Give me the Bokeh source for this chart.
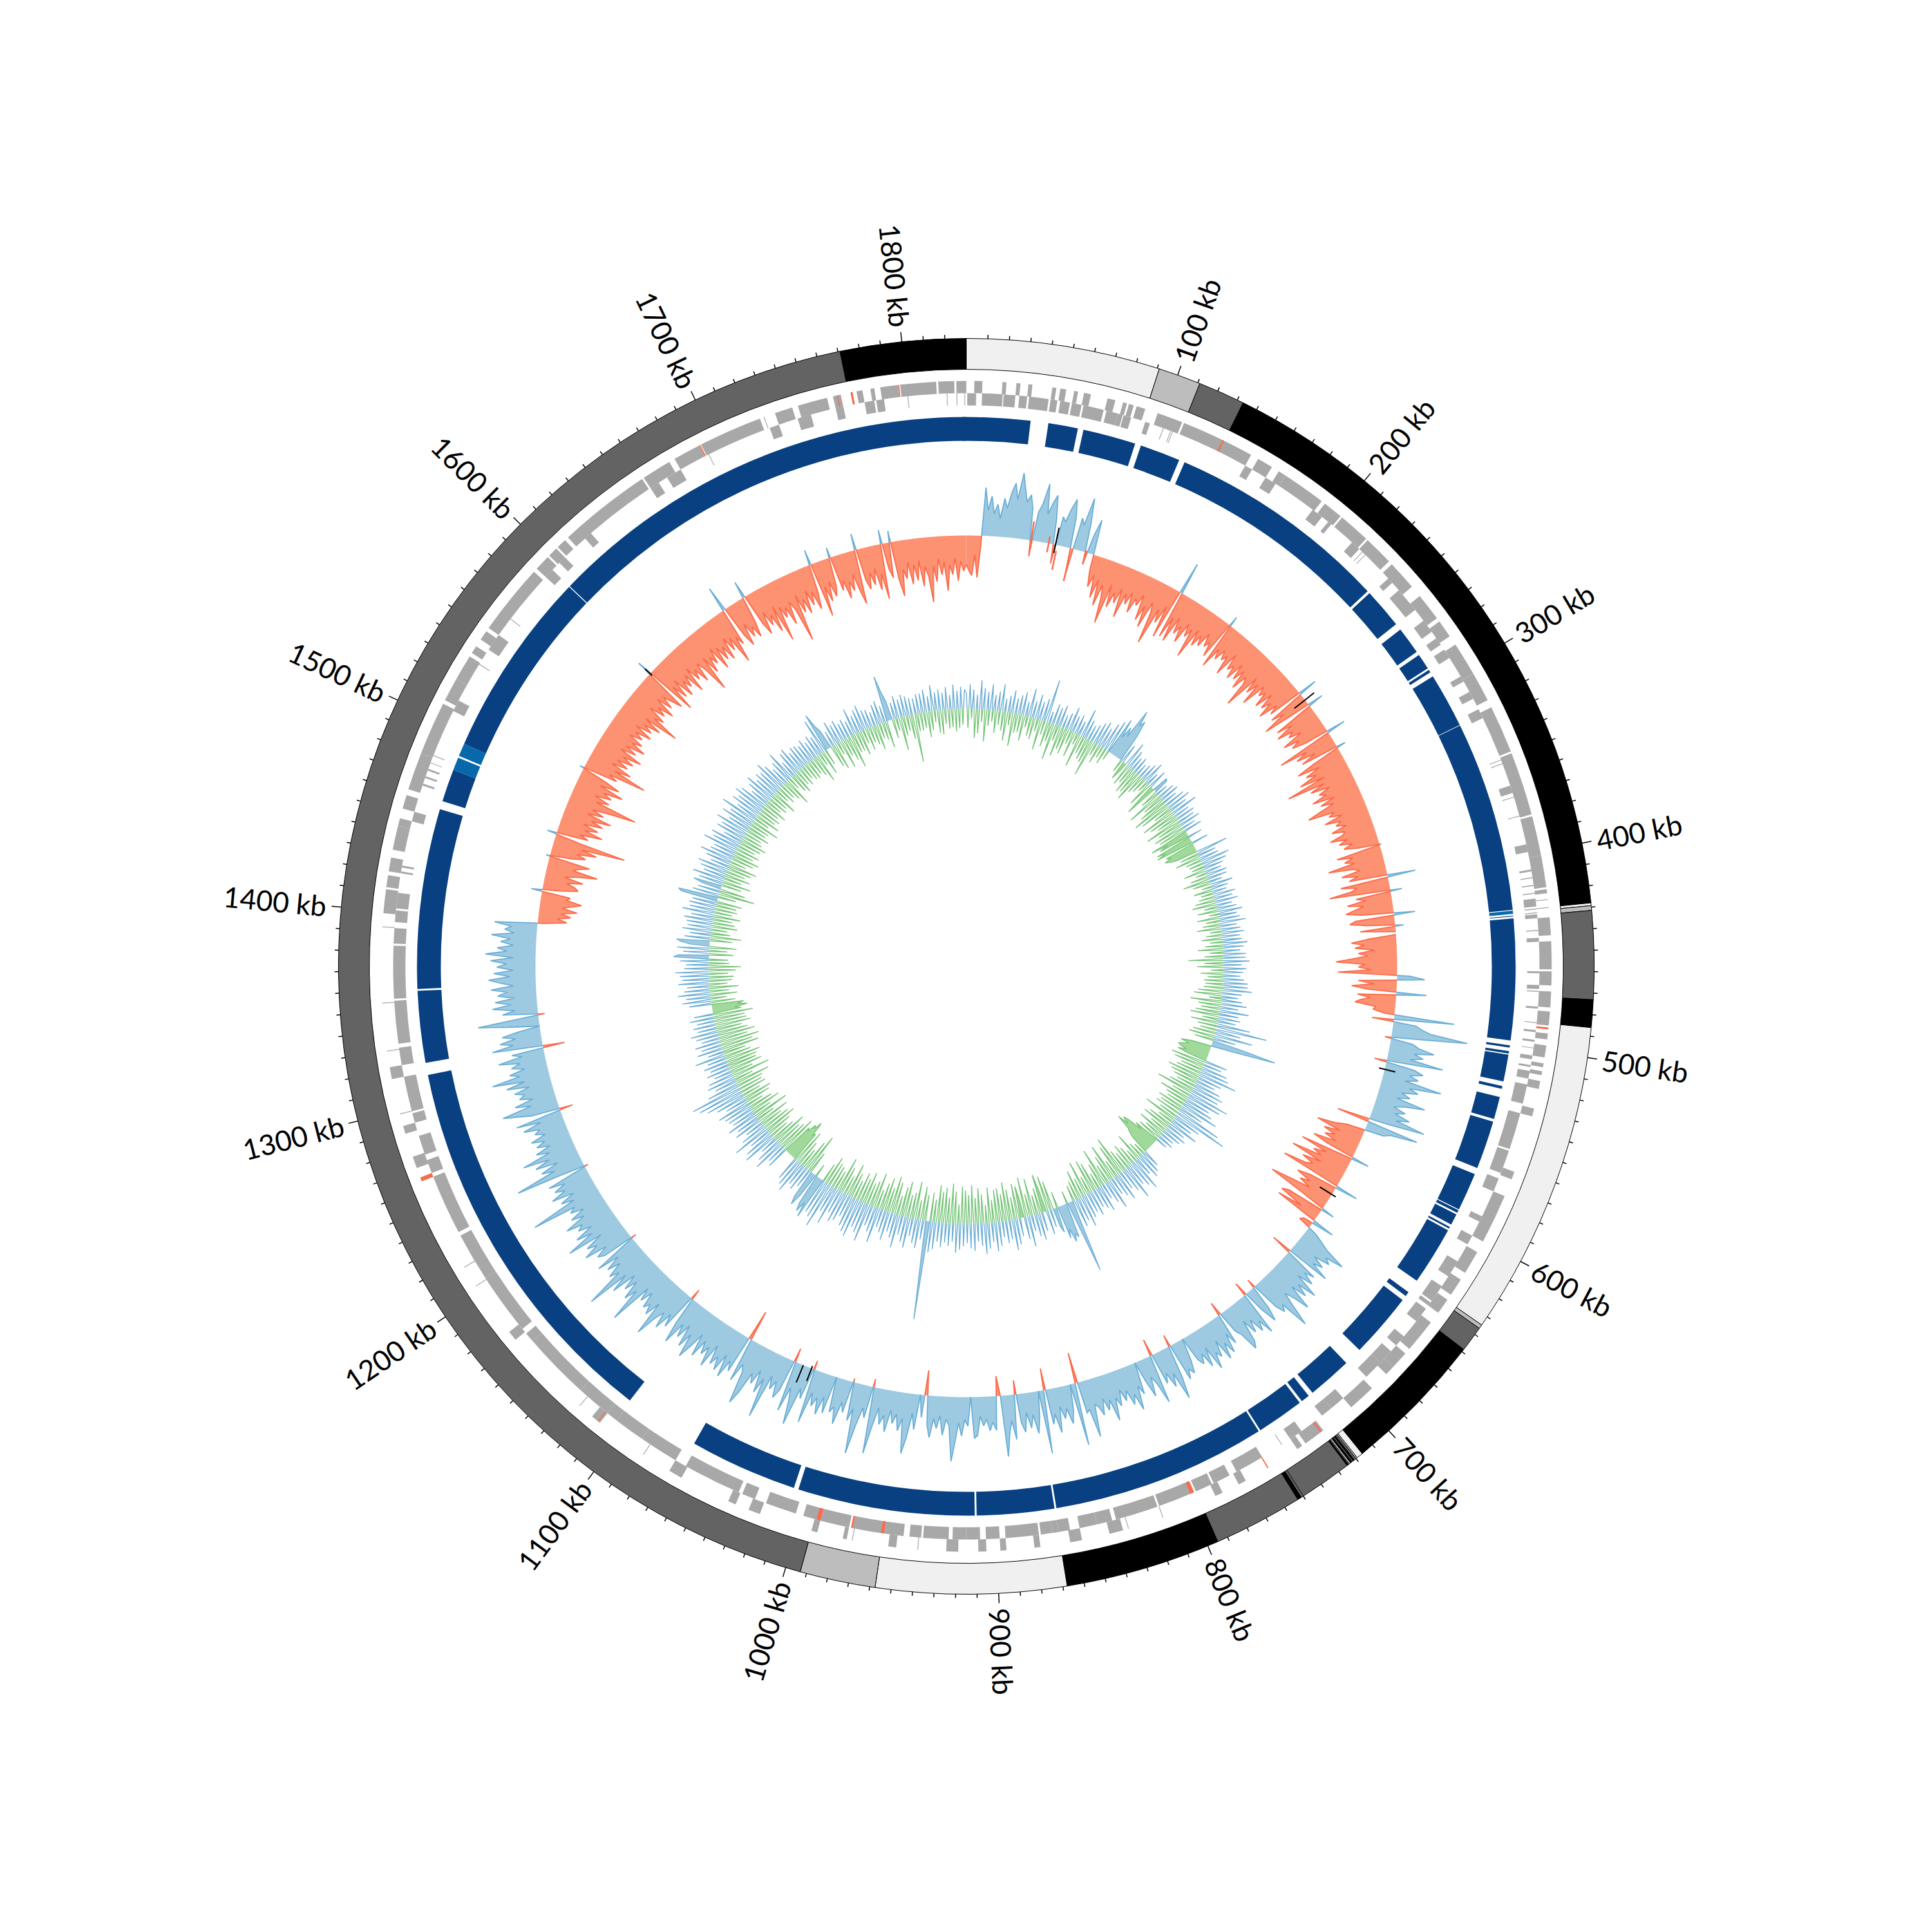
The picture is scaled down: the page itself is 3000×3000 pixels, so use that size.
import numpy as np
from bokeh.plotting import figure
from bokeh.models import Range1d
from bokeh.core.properties import value
from bokeh.embed import file_html
from bokeh.resources import INLINE

genome_kb = 1830.0

# ---- karyotype band: start, end (kb), colour
band_start = [0,91,111,133,428,429.3,431.5,473,486,634.6,636.5,648.7,716.3,719.3,720,721,721.7,722.4,723.2,724,724.4,725.2,750,750.5,751,753,795,868,957.5,993,1771]
band_end = [91,111,133,428,429.3,431.5,473,486,634.6,636.5,648.7,716.3,719.3,720,721,721.7,722.4,723.2,724,724.4,725.2,750,750.5,751,753,795,868,957.5,993,1771,1830]
band_color = ["#f0f0f0","#bdbdbd","#636363","#000000","#f0f0f0","#bdbdbd","#636363","#000000","#f0f0f0","#bdbdbd","#636363","#000000","#f0f0f0","#bdbdbd","#636363","#000000","#636363","#000000","#bdbdbd","#f0f0f0","#000000","#636363","#bdbdbd","#f0f0f0","#000000","#636363","#000000","#f0f0f0","#bdbdbd","#636363","#000000"]

# ---- tick labels
label_kb = [100,200,300,400,500,600,700,800,900,1000,1100,1200,1300,1400,1500,1600,1700,1800]
label_text = ["100 kb","200 kb","300 kb","400 kb","500 kb","600 kb","700 kb","800 kb","900 kb","1000 kb","1100 kb","1200 kb","1300 kb","1400 kb","1500 kb","1600 kb","1700 kb","1800 kb"]

# ---- genes (start, end kb)
genes_outer = [(4,8),(18,20),(25,27),(31,33),(43,45),(47,50),(54,56),(59,62.5),(71,75),(79,81),(82,84.5),(86,90.5),(97,110),(111,148),(152,160),(164,168),(168,190),(192,202),(203,219),(220,235),(237,252),(258,272),(274,283),(288,305),(305,320),(324,348),(349,381),(382,402),(402,418),(419,421),(424,424.4),(428,428.4),(433,442),(445,459),(460,467),(470,478),(480,487),(491,494),(497,503),(506,508),(510,512),(515,519),(529,533),(562,566),(575,600),(606,618),(622,631),(634,642),(648,665),(668,677),(677,682),(692,706),(724,735),(737,740),(770,774),(783,787),(815,815.4),(833,833.4),(836,843),(857,863),(878,881),(895,898),(905,909),(919,925),(939,939.4),(950,954),(972,972.4),(975,977),(990,993),(1020,1026),(1033,1037),(1063,1070),(1085,1085.4),(1112,1117),(1125,1125.4),(1171,1176),(1204,1204.4),(1215,1215.4),(1263,1265),(1270,1276),(1288,1292),(1298,1298.4),(1316,1322),(1330,1330.4),(1354,1354.4),(1392,1392.4),(1399,1411),(1412,1418),(1420,1427),(1431,1443),(1443,1447),(1452,1459),(1462,1481),(1481,1508),(1510,1522),(1522,1535),(1537,1541),(1545,1550),(1552,1588),(1590,1598),(1599,1604),(1605,1610),(1612,1659),(1660,1675),(1678,1692),(1693,1725),(1727,1727.4),(1733,1742),(1745,1760),(1763,1767),(1772,1773),(1775,1778),(1782,1784),(1787,1796),(1797,1815),(1816,1824),(1825,1830)]
genes_inner = [(0.5,5),(8,18.5),(19,25),(27,31),(32,42),(43,46.5),(48,53),(54,59),(60,70.5),(72,78),(78,80.5),(81,85),(92.5,95),(102,102.4),(106,106.4),(107,107.4),(148,152),(160,166),(189,195),(199,201),(215,220),(222,222.4),(224,224.4),(241,244),(249,262),(269,276),(280,284),(287,292),(303,306),(312,316),(322,327),(350,350.4),(352,352.4),(364,368),(370,370.4),(380,380.4),(395,399),(408,409),(412,412.5),(416,416.5),(420,420.5),(423,427),(428,428.5),(430,430.5),(431,433),(439,439.5),(443,445),(460,461),(467,469),(470,470.5),(478,479),(486,486.4),(490,491),(495,496),(499,499.4),(503,505),(508,509),(511,515),(518,528),(533,552),(553,565),(568,575),(589,592),(600,605),(615,624),(630,639),(640,642),(644,652),(662,668),(672,680),(680,690),(706,714),(714,720),(733,740),(745,745.4),(757,772),(776,785),(786,795),(796,815),(816,838),(840,848),(848,857),(862,868),(868,871),(871,877),(878,881),(880,895),(898,905),(908,915),(915,922),(924,937),(938,944),(947,957),(957,973),(975,990),(990,999),(1003,1019),(1025,1032),(1034,1064),(1070,1090),(1090,1106),(1106,1112),(1112,1130),(1130,1165),(1165,1170),(1173,1205),(1205,1230),(1232,1263),(1265,1272),(1275,1285),(1292,1297),(1298,1316),(1322,1331),(1333,1355),(1356,1372),(1372,1383),(1384,1392),(1395,1401),(1402,1410),(1420,1421),(1423,1424),(1447,1452),(1466,1467),(1470,1471),(1474,1475),(1478,1478.4),(1482,1482.4),(1507,1513),(1534,1534.4),(1543,1552),(1562,1562.4),(1590,1595),(1600,1604),(1618,1622),(1660,1665),(1670,1678),(1694,1694.4),(1728,1733),(1743,1750),(1763,1767),(1778,1783),(1784,1788),(1800,1800.4),(1820,1820.4),(1825,1825.4),(1829,1829.4)]
red_outer = [(132,132.8),(488,489),(725,725.8),(757,757.6),(1113,1113.5),(1263,1265),(1692,1692.6),(1765,1765.5),(1772,1773),(1796,1796.5)]
red_inner = [(796,798),(957,958.5),(973,974),(990,992)]

# ---- contig ring
contig_start = [-2,43.7,62.6,94.2,119,240,265.3,282,291.5,295.5,325.3,427.9,430.6,432,499.6,502.7,504.6,521.5,527.5,541,570.5,591.5,594,601.5,603.5,642.5,647.7,692.5,719,725,751.5,868,910.5,1008,1107,1321,1360.5,1461.5,1479,1487,1494,1595.1]
contig_end = [34.2,59.6,91,115.9,238.6,261.7,280,290.5,293,325,427.5,429.6,431,497,500.8,504,519,523,539.5,567,591,593,600,602.5,635,645,682.7,716.4,723.6,750.5,867,909.5,1005.5,1066,1314.5,1359.5,1457,1479,1486,1494,1594.6,1830]
contig_color = ["#084081"]*42
contig_color[11] = "#0868ac"
contig_color[38] = "#0868ac"
contig_color[39] = "#0868ac"

# ---- outer signal: one value every 2 kb (positive outward, negative inward)
cov_step = 2
cov_values = [
-45,-55,-62,-30,-65,-15,75,40,62,35,
50,28,60,45,70,85,60,102,78,58,
70,50,-25,45,60,91,45,62,76,40,
-30,45,38,60,76,48,-45,50,40,84,
45,-19,30,55,-25,-50,-30,-65,-35,-75,
-40,-60,-99,-35,-70,-45,-60,-35,-80,-40,
-55,-35,-65,-40,-50,-30,-70,-45,-78,-35,
-50,-99,-40,-60,-30,-80,51,-75,-40,-78,
-35,-60,-45,-70,-35,-55,-40,-85,-35,-60,
-40,-55,-30,-50,-40,-62,16,-74,-40,-55,
-35,-50,-40,-70,-30,-55,-45,-65,-35,-60,
-40,-70,-45,-55,-93,-35,-60,-40,-75,-35,
-50,-40,-64,-35,-60,-45,-70,-40,-55,30,
-60,-40,-78,-35,25,-65,-40,-70,-45,-55,
-35,-70,-45,-60,-40,30,-89,-45,-65,-35,
-60,14,-45,-75,-40,-65,-50,-80,-40,-105,
-45,-70,-40,-60,-50,-75,-40,-65,-45,-70,
-91,-50,-60,-40,-70,-45,-55,-40,-65,-45,
-50,-72,-45,-60,-40,-55,-35,3,-70,-45,
-60,-45,-88,-50,-40,-70,-45,-60,44,-75,
-50,-60,-95,18,-55,-40,-70,-45,-60,-74,
-50,33,-60,-70,-45,13,-55,0,0,-45,
-70,-50,-65,-35,-60,-45,-70,-95,-50,-60,
-40,-92,20,43,-60,-35,-70,-45,47,-60,
-40,-55,-63,-30,-34,-15,94,-34,35,45,
60,118,50,-10,35,45,70,40,55,35,
88,-19,45,60,40,55,35,94,45,60,
35,50,30,77,45,30,50,35,60,40,
88,30,-51,82,40,30,-30,-45,-75,-35,
-60,-40,-55,-35,-70,-45,28,-84,-40,-60,
-45,-92,-40,-70,-50,-60,-96,36,-45,-65,
-40,-55,-35,-70,-99,-40,21,-60,-70,-30,
-70,36,-15,-20,15,30,45,78,50,60,
35,55,40,70,-33,55,40,60,35,75,
45,65,40,80,55,40,65,96,50,60,
45,-14,40,60,35,-22,70,45,60,35,
55,30,65,75,45,35,-22,50,30,60,
40,65,30,55,45,70,30,60,35,50,
40,0,35,55,45,60,-19,50,85,40,
60,35,50,-27,77,45,30,60,35,0,
50,35,72,45,60,35,50,30,55,40,
75,40,55,35,60,45,40,90,45,50,
-48,98,0,40,60,35,50,30,70,40,
55,-34,99,0,40,65,35,55,30,60,
45,-22,70,40,60,95,0,-31,53,40,
53,35,45,30,60,64,0,45,35,60,
40,70,100,45,35,60,30,50,35,65,
45,-39,35,0,55,30,70,94,40,60,
35,50,30,65,40,55,30,60,104,-13,
50,35,65,110,40,60,-6,50,35,71,
45,55,0,60,35,65,40,55,35,85,
-14,50,35,96,60,40,80,-22,50,65,
40,55,35,106,45,70,35,60,45,80,
101,50,40,70,-48,60,45,75,40,70,
50,65,35,75,45,60,40,70,35,60,
82,45,70,35,60,40,77,45,-17,60,
40,70,45,60,94,40,65,50,60,35,
55,35,103,50,70,40,60,35,75,45,
112,50,65,40,60,35,70,-8,50,60,
40,75,50,65,35,91,45,70,40,60,
50,75,40,60,35,55,45,114,40,60,
35,70,45,60,40,65,-6,40,111,45,
65,35,70,45,86,40,60,35,55,40,
60,35,50,40,65,35,73,-21,45,65,
88,40,65,35,55,45,60,35,70,40,
90,45,60,35,55,40,73,35,50,-34,
79,45,65,40,60,35,0,50,95,40,
-10,55,35,70,40,65,35,60,45,70,
35,55,73,40,65,35,60,45,70,35,
78,45,60,35,55,40,70,35,50,40,
67,-10,-45,-30,-50,-35,-59,-35,-50,-64,
-40,-45,17,-30,-55,-49,-35,-60,-30,-50,
-80,-40,-50,-65,6,-35,-55,-40,-70,-45,
-113,-40,15,-50,-35,-70,-40,-60,-35,-65,
-45,-75,-35,-60,-40,-70,-108,-40,-60,-35,
-60,-45,-75,-35,-65,-40,7,-55,-40,-99,
-45,-70,-35,-60,-40,-65,-45,-74,-35,-60,
-40,-70,-45,-60,-35,-55,-40,-65,-35,-60,
-45,-70,-40,-95,-50,-65,-35,-60,-45,-70,
-35,-60,-40,-55,-70,24,-82,-40,-65,-35,
-70,-45,-60,-40,-75,-35,-60,-45,-70,-40,
-55,-96,-40,-70,-45,-60,-35,-75,-40,-65,
-45,-70,-35,-60,-40,-86,-45,-60,40,-50,
-70,-35,-60,-45,-65,-40,27,-50,-70,-35,
-60,-45,-75,-35,-94,-40,-60,-45,-75,-40,
-55,-108,-35,-65,-45,-70,-35,-60,-40,-70,
-45,24,-86,-40,-65,-35,-60,-45,16,-55,
-40,-70,-45,-60,-35,-65,-85,26,-50,-65,
-40,-60,-35,-70,-45,-86,22,-40,-55,18,
-60,-86,-45,-60,-35,-70,-40,-65,-35,-75,
-45,-60,-101,-45,-70,-35,-60,-40,-85,-45,
-60,-35,-70,-40,-55,
]

# ---- inner signal: one value every 2 kb
skew_step = 2
skew_values = [
25,-30,38,-15,30,-45,22,-38,45,-20,
33,-50,28,-25,40,-18,24,-35,30,-22,
42,-30,20,-45,26,-20,35,-52,24,-30,
30,-28,36,-40,22,-18,44,-30,26,-34,
38,-20,28,-48,35,-22,67,-40,18,-30,
32,-57,28,-25,34,-48,20,-35,26,-40,
38,-22,26,-40,30,-18,22,-52,45,-28,
30,-35,24,-38,28,-57,35,-20,40,-30,
32,-18,44,-25,52,-15,60,30,50,36,
84,60,70,45,-20,30,-30,-12,40,-35,
30,-28,22,-42,26,-38,18,-48,22,-30,
28,-25,35,-18,20,-40,30,-22,-52,26,
24,-30,18,-58,26,-34,30,-45,22,-60,
32,-50,38,-30,28,-55,42,-45,24,-35,
30,-58,26,-40,32,-50,20,-45,28,-62,
-35,-50,22,-58,-45,-60,26,-48,-40,-52,
-45,-35,50,-30,28,-40,30,-25,45,-22,
38,-20,30,-35,25,-18,32,-28,30,-42,
20,-28,35,-15,26,-30,22,-20,34,-25,
28,-32,35,-38,24,-20,30,-32,38,-15,
28,-35,32,-22,40,-28,25,-38,30,-18,
35,-25,28,-32,30,-20,38,-28,32,-40,
26,-22,35,-30,34,-55,40,-30,28,-42,
35,-20,30,-36,26,-25,32,-30,38,-28,
38,-30,45,-38,30,-44,25,-20,32,-48,
40,-35,28,-30,45,-38,30,-45,34,-25,
28,-42,52,-30,80,-25,40,-35,60,-40,
35,-30,50,102,40,-30,-48,-35,-42,-50,
-45,-35,-48,-30,35,-55,28,-48,40,-35,
45,-40,60,-52,38,-45,30,-38,42,-30,
50,-40,45,-58,65,-30,55,-48,40,-35,
48,-30,60,-42,38,-35,72,-40,87,-30,
45,-52,35,-25,48,-38,30,-45,36,-28,
30,-45,22,-30,25,-38,18,-42,-30,-55,
-62,-50,-68,-45,-40,-30,28,-20,35,-25,
40,-45,30,-20,52,-30,42,-38,35,-28,
55,-35,38,-62,30,-50,45,-28,35,-58,
28,-42,48,-30,35,-60,25,-38,42,-25,
35,-45,30,-52,40,-28,32,-55,38,-30,
50,-45,38,-30,45,-25,30,115,40,-20,
55,48,60,38,52,-25,40,30,-45,28,
-55,38,-35,-60,30,-40,42,-30,35,-58,
25,-35,48,-62,35,-30,-50,28,-55,40,
-35,48,-48,30,-60,35,-42,25,-52,38,
-50,45,-35,30,-55,40,-28,48,-45,35,
-55,28,-40,42,-60,38,-45,30,-52,35,
-58,40,-30,45,-50,28,-62,35,-40,30,
-55,38,-48,30,-58,42,-35,48,-45,154,
50,-40,30,-52,45,-30,38,-58,28,-40,
48,-35,40,-55,30,-45,52,-30,38,-50,
30,-58,45,-38,35,-52,28,-42,55,-30,
40,-55,32,-40,60,-35,48,-50,42,-38,
60,-45,55,-30,48,-40,35,-52,45,-30,
50,-42,38,-55,60,-30,42,-35,72,-38,
60,-45,55,-30,68,45,62,50,-20,40,
58,45,-35,30,-62,40,-48,35,-30,52,
-40,45,-55,38,-50,-45,-68,-55,-60,-45,
-50,35,-60,30,-48,50,-42,40,-55,28,
-38,55,-30,48,-40,35,-52,60,-45,42,
-35,30,-50,45,-28,38,-55,50,-30,38,
-48,42,-38,45,-25,52,-40,35,-45,48,
-30,62,-42,72,-38,80,-42,50,-55,35,
-30,45,-60,40,-35,28,-52,38,-45,30,
-48,38,-55,30,-42,48,-35,25,-58,40,
-50,32,-62,40,-45,28,-58,35,-48,42,
-40,30,-55,35,-50,28,-48,38,-62,30,
-45,-35,-55,-40,-50,35,-38,45,-25,38,
-42,50,-30,40,-45,35,-28,48,-35,42,
-38,45,-30,52,-42,38,-50,35,-32,45,
-30,55,48,-38,40,-28,50,-42,30,45,
52,-35,40,-48,32,-30,45,-25,38,-40,
40,-35,45,-30,35,-42,50,-28,40,-35,
42,-32,38,-40,58,63,-28,42,-56,35,
-40,30,45,-32,38,-45,50,-28,35,-40,
42,-30,48,-38,30,-45,40,-25,52,-35,
38,-42,35,-30,55,-38,42,-28,48,-35,
30,-42,45,-32,40,-28,52,-38,35,-30,
50,-32,40,-45,58,-25,35,-40,48,-30,
42,-35,52,-28,45,-38,30,-25,40,-32,
48,-28,35,-40,42,-22,38,-30,50,-25,
40,-32,28,-45,36,-20,48,-30,26,-35,
38,-25,42,-30,30,-22,36,-28,34,-30,
30,-25,36,-32,28,-45,35,-20,30,-38,
55,-25,62,40,30,-35,25,-42,38,-20,
30,-45,34,-28,26,-38,30,-52,24,-30,
42,-30,28,-38,35,-22,40,-35,30,-25,
28,-30,22,-40,32,-24,36,-28,26,-42,
72,45,30,-30,26,-20,35,-52,28,-30,
34,-24,30,-38,26,-75,24,-28,30,-28,
30,-25,35,-40,24,-30,40,-18,28,-35,
32,-38,26,-22,35,-30,22,-28,38,-35,
28,-30,34,-25,30,
]

# ---- short black and orange strokes over the outer signal: kb, low, high
black_kb = [60.7,263.4,527.8,620,1022,1028,1590]
black_low = [-13,-21,-9,-22,-4,0,-4]
black_high = [27,18,17,7,21,29,11]
orange_kb = [44,56,62,72,82]
orange_low = [-2,-14,-39,-52,-19]
orange_high = [30,11,-9,-19,3]

# ---- radii and style
R_BAND = (927, 975)
R_OUT = (890, 909)
R_IN = (871, 890)
R_CONTIG = (816, 853)
R_COV = 669
R_SKEW = 400
R_LABEL = 998


def ang(kb):
    return np.pi / 2 - 2 * np.pi * np.asarray(kb, dtype=float) / genome_kb


def polar(kb, r):
    a = ang(kb)
    return np.asarray(r, dtype=float) * np.cos(a), np.asarray(r, dtype=float) * np.sin(a)


p = figure(width=2984, height=2984, x_range=Range1d(-1500, 1484), y_range=Range1d(-1484, 1500),
           x_axis_type=None, y_axis_type=None, output_backend="svg", toolbar_location=None,
           min_border=0, outline_line_color=None, background_fill_color="white", border_fill_color="white")
p.grid.visible = False


def ring(starts, ends, colors, r0, r1, **kw):
    n = len(starts)
    p.annular_wedge(x=[0] * n, y=[0] * n, inner_radius=r0, outer_radius=r1,
                    start_angle=list(ang(ends)), end_angle=list(ang(starts)), fill_color=colors, **kw)


# band and ticks
ring(band_start, band_end, band_color, R_BAND[0], R_BAND[1], line_color="#000000", line_width=1)
tick_kb = np.arange(10, genome_kb, 10)
tick_len = np.where(tick_kb % 100 == 0, 15, 6)
x0, y0 = polar(tick_kb, np.full_like(tick_kb, R_BAND[1]))
x1, y1 = polar(tick_kb, R_BAND[1] + tick_len)
p.segment(x0, y0, x1, y1, line_color="#000000", line_width=1.5)

# genes
for genes, rr in ((genes_outer, R_OUT), (genes_inner, R_IN)):
    ring([g[0] for g in genes], [g[1] for g in genes], ["#a8a8a8"] * len(genes), rr[0], rr[1], line_color=None)
for genes, rr in ((red_outer, R_OUT), (red_inner, R_IN)):
    ring([g[0] for g in genes], [g[1] for g in genes], ["#fb6a4a"] * len(genes), rr[0], rr[1], line_color=None)

# contigs
ring(contig_start, contig_end, contig_color, R_CONTIG[0], R_CONTIG[1], line_color=None)


def sign_runs(vals, step, sign):
    """Split the closed signal into stretches of one sign, with zero crossings."""
    kb = [i * step for i in range(len(vals))] + [genome_kb]
    v = list(vals) + [vals[0]]
    runs, cur = [], []
    for i in range(len(v)):
        s = v[i] * sign
        if s > 0:
            cur.append((kb[i], v[i]))
        if i + 1 < len(v):
            s2 = v[i + 1] * sign
            if (s > 0) != (s2 > 0):
                if s == 0 or s2 == 0:
                    k = kb[i] if s == 0 else kb[i + 1]
                else:
                    k = kb[i] + (kb[i + 1] - kb[i]) * v[i] / (v[i] - v[i + 1])
                if s > 0:
                    cur.append((k, 0))
                    runs.append(cur)
                    cur = []
                else:
                    cur = [(k, 0)]
    if cur:
        runs.append(cur)
    return runs


def draw_signal(vals, step, r0, pos_fill, pos_line, neg_fill, neg_line, lw, min_fill_pts=0):
    for sign, fill, line in ((1, pos_fill, pos_line), (-1, neg_fill, neg_line)):
        xs_f, ys_f, xs_l, ys_l = [], [], [], []
        for run in sign_runs(vals, step, sign):
            k = np.array([q[0] for q in run])
            r = r0 + np.array([q[1] for q in run], dtype=float)
            x, y = polar(k, r)
            bx, by = polar(k[::-1], np.full(len(k), r0))
            if len(run) >= min_fill_pts:
                xs_f.append(list(x) + list(bx))
                ys_f.append(list(y) + list(by))
            xs_l.append(list(x))
            ys_l.append(list(y))
        p.patches(xs_f, ys_f, fill_color=fill, line_color=None)
        p.multi_line(xs_l, ys_l, line_color=line, line_width=lw)


draw_signal(cov_values, cov_step, R_COV, "#9ecae1", "#6baed6", "#fc9272", "#fb6a4a", 1.8)
x0, y0 = polar(orange_kb, R_COV + np.array(orange_low))
x1, y1 = polar(orange_kb, R_COV + np.array(orange_high))
p.segment(x0, y0, x1, y1, line_color="#fb6a4a", line_width=2.5)
x0, y0 = polar(black_kb, R_COV + np.array(black_low))
x1, y1 = polar(black_kb, R_COV + np.array(black_high))
p.segment(x0, y0, x1, y1, line_color="#000000", line_width=2)

# single spikes of the inner signal stay as outlines; only longer stretches are filled
draw_signal(skew_values, skew_step, R_SKEW, "#9ecae1", "#6baed6", "#a1d99b", "#74c476", 1.4, min_fill_pts=4)

# labels
for k, t in zip(label_kb, label_text):
    a = float(ang(k))
    x, y = polar(k, R_LABEL)
    right = k < genome_kb / 2
    p.text([float(x)], [float(y)], text=[t], angle=a if right else a + np.pi,
           text_align="left" if right else "right", text_baseline="middle",
           text_font=value("Lato"), text_font_size="44px", text_color="#000000")

open("out.html", "w").write(file_html(p, INLINE))
